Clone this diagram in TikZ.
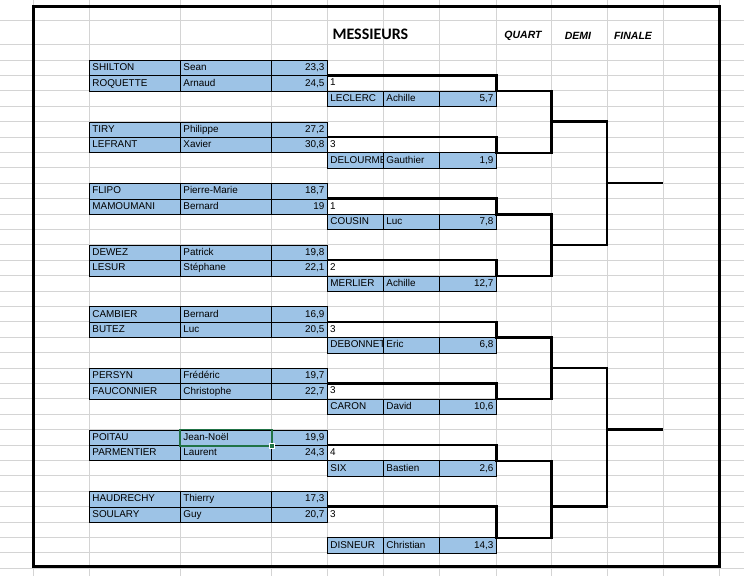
\documentclass[tikz,border=0pt]{standalone}
\usepackage{fontspec}
\usepackage{tikz}
\newfontfamily\cellfont{Liberation Sans}
\newfontfamily\titlefont{Carlito}
\definecolor{cellblue}{RGB}{157,195,230}
\definecolor{gridgray}{RGB}{212,212,212}
\definecolor{selgreen}{RGB}{33,115,70}

\tikzset{
  gridline/.style={gridgray, line width=0.8pt},
  cell/.style={draw=black, line width=0.8pt, fill=cellblue, anchor=north west,
    inner xsep=3pt, inner ysep=0pt, minimum height=15.4pt,
    text height=7.2pt, text depth=2pt, font=\cellfont\fontsize{9.9}{11}\selectfont},
  namecell/.style={cell, text width=#1, align=left},
  scorecell/.style={cell, text width=#1, align=right},
  rankbox/.style={anchor=north west, minimum width=169pt, minimum height=15.4pt, inner sep=0pt},
  rank/.style={anchor=north west, inner xsep=3pt, inner ysep=0pt, minimum height=15.4pt,
    text height=7.2pt, text depth=2pt, font=\cellfont\fontsize{9.9}{11}\selectfont},
  bracket/.style={line width=2.4pt, line join=miter},
  roundtitle/.style={font=\cellfont\bfseries\itshape\fontsize{10.5}{12}\selectfont}
}

\begin{document}
\begin{tikzpicture}[x=1pt, y=-15.4pt]
    \useasboundingbox (0,-3.896) rectangle (744,33.506);
    % sheet grid
    \foreach \x in {33,89,180,271,327,383,439,496,551,607,663,719}
        \draw[gridline] (\x,-3.9) -- (\x,33.51);
    \draw[gridline] (0,-2.6) -- (744,-2.6);
    \draw[gridline] (0,-1) -- (744,-1);
    \foreach \y in {0,...,33}
        \draw[gridline] (0,\y) -- (744,\y);

    % titles
    \node[font=\titlefont\bfseries\fontsize{16}{18}\selectfont, anchor=west] (title) at (329,-1.65) {MESSIEURS};
    \node[roundtitle] (quart) at (523,-1.55) {QUART};
    \node[roundtitle] (demi) at (578,-1.55) {DEMI};
    \node[roundtitle] (finale) at (633,-1.55) {FINALE};

    % first round
    \node[namecell=85pt] (shilton) at (89,0) {SHILTON}; \node[namecell=85pt] (shilton2) at (180,0) {Sean}; \node[scorecell=50pt] (shilton3) at (271,0) {23,3};
    \node[namecell=85pt] (roquette) at (89,1) {ROQUETTE}; \node[namecell=85pt] (roquette2) at (180,1) {Arnaud}; \node[scorecell=50pt] (roquette3) at (271,1) {24,5};
    \node[namecell=85pt] (tiry) at (89,4) {TIRY}; \node[namecell=85pt] (tiry2) at (180,4) {Philippe}; \node[scorecell=50pt] (tiry3) at (271,4) {27,2};
    \node[namecell=85pt] (lefrant) at (89,5) {LEFRANT}; \node[namecell=85pt] (lefrant2) at (180,5) {Xavier}; \node[scorecell=50pt] (lefrant3) at (271,5) {30,8};
    \node[namecell=85pt] (flipo) at (89,8) {FLIPO}; \node[namecell=85pt] (flipo2) at (180,8) {Pierre-Marie}; \node[scorecell=50pt] (flipo3) at (271,8) {18,7};
    \node[namecell=85pt] (mamoumani) at (89,9) {MAMOUMANI}; \node[namecell=85pt] (mamoumani2) at (180,9) {Bernard}; \node[scorecell=50pt] (mamoumani3) at (271,9) {19};
    \node[namecell=85pt] (dewez) at (89,12) {DEWEZ}; \node[namecell=85pt] (dewez2) at (180,12) {Patrick}; \node[scorecell=50pt] (dewez3) at (271,12) {19,8};
    \node[namecell=85pt] (lesur) at (89,13) {LESUR}; \node[namecell=85pt] (lesur2) at (180,13) {Stéphane}; \node[scorecell=50pt] (lesur3) at (271,13) {22,1};
    \node[namecell=85pt] (cambier) at (89,16) {CAMBIER}; \node[namecell=85pt] (cambier2) at (180,16) {Bernard}; \node[scorecell=50pt] (cambier3) at (271,16) {16,9};
    \node[namecell=85pt] (butez) at (89,17) {BUTEZ}; \node[namecell=85pt] (butez2) at (180,17) {Luc}; \node[scorecell=50pt] (butez3) at (271,17) {20,5};
    \node[namecell=85pt] (persyn) at (89,20) {PERSYN}; \node[namecell=85pt] (persyn2) at (180,20) {Frédéric}; \node[scorecell=50pt] (persyn3) at (271,20) {19,7};
    \node[namecell=85pt] (fauconnier) at (89,21) {FAUCONNIER}; \node[namecell=85pt] (fauconnier2) at (180,21) {Christophe}; \node[scorecell=50pt] (fauconnier3) at (271,21) {22,7};
    \node[namecell=85pt] (poitau) at (89,24) {POITAU}; \node[namecell=85pt] (poitau2) at (180,24) {Jean-Noël}; \node[scorecell=50pt] (poitau3) at (271,24) {19,9};
    \node[namecell=85pt] (parmentier) at (89,25) {PARMENTIER}; \node[namecell=85pt] (parmentier2) at (180,25) {Laurent}; \node[scorecell=50pt] (parmentier3) at (271,25) {24,3};
    \node[namecell=85pt] (haudrechy) at (89,28) {HAUDRECHY}; \node[namecell=85pt] (haudrechy2) at (180,28) {Thierry}; \node[scorecell=50pt] (haudrechy3) at (271,28) {17,3};
    \node[namecell=85pt] (soulary) at (89,29) {SOULARY}; \node[namecell=85pt] (soulary2) at (180,29) {Guy}; \node[scorecell=50pt] (soulary3) at (271,29) {20,7};

    % second column
    \node[namecell=50pt] (leclerc) at (327,2) {LECLERC}; \node[namecell=50pt] (leclerc2) at (383,2) {Achille}; \node[scorecell=51pt] (leclerc3) at (439,2) {5,7};
    \node[namecell=50pt] (delourme) at (327,6) {DELOURME}; \node[namecell=50pt] (delourme2) at (383,6) {Gauthier}; \node[scorecell=51pt] (delourme3) at (439,6) {1,9};
    \node[namecell=50pt] (cousin) at (327,10) {COUSIN}; \node[namecell=50pt] (cousin2) at (383,10) {Luc}; \node[scorecell=51pt] (cousin3) at (439,10) {7,8};
    \node[namecell=50pt] (merlier) at (327,14) {MERLIER}; \node[namecell=50pt] (merlier2) at (383,14) {Achille}; \node[scorecell=51pt] (merlier3) at (439,14) {12,7};
    \node[namecell=50pt] (debonnet) at (327,18) {DEBONNET}; \node[namecell=50pt] (debonnet2) at (383,18) {Eric}; \node[scorecell=51pt] (debonnet3) at (439,18) {6,8};
    \node[namecell=50pt] (caron) at (327,22) {CARON}; \node[namecell=50pt] (caron2) at (383,22) {David}; \node[scorecell=51pt] (caron3) at (439,22) {10,6};
    \node[namecell=50pt] (six) at (327,26) {SIX}; \node[namecell=50pt] (six2) at (383,26) {Bastien}; \node[scorecell=51pt] (six3) at (439,26) {2,6};
    \node[namecell=50pt] (disneur) at (327,31) {DISNEUR}; \node[namecell=50pt] (disneur2) at (383,31) {Christian}; \node[scorecell=51pt] (disneur3) at (439,31) {14,3};

    % rank boxes
    \node[rankbox] (box1) at (327,1) {}; \node[rank] (rank1) at (box1.north west) {1};
    \node[rankbox] (box2) at (327,5) {}; \node[rank] (rank2) at (box2.north west) {3};
    \node[rankbox] (box3) at (327,9) {}; \node[rank] (rank3) at (box3.north west) {1};
    \node[rankbox] (box4) at (327,13) {}; \node[rank] (rank4) at (box4.north west) {2};
    \node[rankbox] (box5) at (327,17) {}; \node[rank] (rank5) at (box5.north west) {3};
    \node[rankbox] (box6) at (327,21) {}; \node[rank] (rank6) at (box6.north west) {3};
    \node[rankbox] (box7) at (327,25) {}; \node[rank] (rank7) at (box7.north west) {4};
    \node[rankbox, minimum height=30.8pt] (box8) at (327,29) {}; \node[rank] (rank8) at (box8.north west) {3};

    % bracket
    \coordinate (q1) at (551,4);
    \coordinate (q2) at (551,12);
    \coordinate (q3) at (551,20);
    \coordinate (q4) at (551,29);
    \coordinate (s1) at (607,8);
    \coordinate (s2) at (607,24);
    \coordinate (f1) at (663,8);
    \coordinate (f2) at (663,24);
    \draw[bracket] (box1.north west) -- (box1.north east) -- (box1.south east) -- ++(55,0) |- (box2.south east) -- (box2.north east) -- (box2.north west);
    \draw[bracket] (box3.north west) -- (box3.north east) -- (box3.south east) -- ++(55,0) |- (box4.south east) -- (box4.north east) -- (box4.north west);
    \draw[bracket] (box5.north west) -- (box5.north east) -- (box5.south east) -- ++(55,0) |- (box6.south east) -- (box6.north east) -- (box6.north west);
    \draw[bracket] (box7.north west) -- (box7.north east) -- (box7.south east) -- ++(55,0) |- (box8.south east) -- (box8.north east) -- (box8.north west);
    \draw[bracket] (q1) -| (s1) |- (q2);
    \draw[bracket] (q3) -| (s2) |- (q4);
    \draw[bracket] (s1) -- (f1);
    \draw[bracket] (s2) -- (f2);

    % selected cell
    \draw[selgreen, line width=1.6pt] (poitau2.north west) rectangle (poitau2.south east);
    \fill[selgreen, draw=white, line width=0.6pt] (poitau2.south east) ++(-2.5pt,-2.5pt) rectangle ++(5pt,5pt);

    % frame
    \draw[line width=3pt] (33,-3.5) rectangle (719,32.92);
\end{tikzpicture}
\end{document}
